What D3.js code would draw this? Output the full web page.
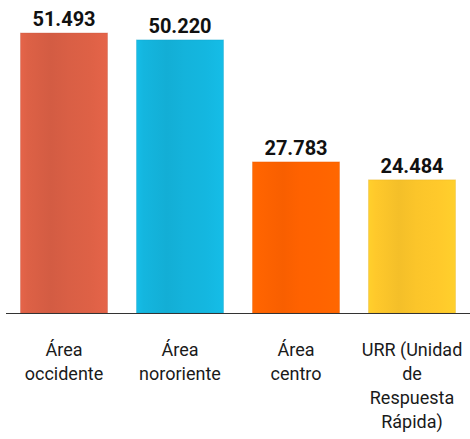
<!DOCTYPE html>
<html>
<head>
<meta charset="utf-8">
<script src="https://cdn.jsdelivr.net/npm/d3@7"></script>
<style>
  body { margin: 0; background: #fff; }
  svg { display: block; }
</style>
</head>
<body>
<script>
var w = 470;
var h = 439;

// data
var categories = ["occidente", "nororiente", "centro", "urr"];
var categoryLines = [
    ["Área", "occidente"],
    ["Área", "nororiente"],
    ["Área", "centro"],
    ["URR (Unidad", "de", "Respuesta", "Rápida)"]
];
var values = [51.493, 50.220, 27.783, 24.484];
var valueLabels = ["51.493", "50.220", "27.783", "24.484"];
var colors = ["#d95f45", "#14b3db", "#ff6200", "#fbc52a"];

var baseY = 313;
var topY = 33;

/*
    Band scale for the categories, linear scale for the bar heights.
*/
var xScale = d3.scaleBand()
    .domain(categories)
    .range([6, w])
    .paddingInner(0.25)
    .paddingOuter(0.125);

var yScale = d3.scaleLinear()
    .domain([0, d3.max(values)])
    .range([baseY, topY]);

var svg = d3.select("body")
    .append("svg")
    .attr("width", w)
    .attr("height", h);

// soft vertical streaks like the original bars
var defs = svg.append("defs");
colors.forEach(function(c, i){
    var base = d3.color(c);
    var g = defs.append("linearGradient")
        .attr("id", "grad" + i)
        .attr("x1", "0%").attr("x2", "100%")
        .attr("y1", "0%").attr("y2", "0%");
    var stops = [[0, 0.15], [0.08, 0.05], [0.35, -0.08], [0.55, 0], [0.8, 0.06], [1, 0.15]];
    stops.forEach(function(s){
        g.append("stop")
            .attr("offset", s[0])
            .attr("stop-color", s[1] >= 0 ? base.brighter(s[1]) : base.darker(-s[1]));
    });
});

svg.selectAll("rect.bar")
    .data(values)
    .enter()
    .append("rect")
    .attr("class", "bar")
    .attr("x", function(d, i){ return xScale(categories[i]); })
    .attr("y", function(d){ return yScale(d); })
    .attr("width", xScale.bandwidth())
    .attr("height", function(d){ return baseY - yScale(d); })
    .attr("fill", function(d, i){ return "url(#grad" + i + ")"; })
    .attr("stroke", function(d, i){ return d3.color(colors[i]).darker(0.3); })
    .attr("stroke-opacity", 0.35)
    .attr("stroke-width", 1);

// value labels above the bars
svg.selectAll("text.value")
    .data(values)
    .enter()
    .append("text")
    .attr("class", "value")
    .attr("x", function(d, i){ return xScale(categories[i]) + xScale.bandwidth() / 2; })
    .attr("y", function(d){ return yScale(d) - 7; })
    .attr("text-anchor", "middle")
    .style("font-family", "Roboto, 'Liberation Sans', sans-serif")
    .style("font-weight", "bold")
    .style("font-size", "20px")
    .style("fill", "#111")
    .text(function(d, i){ return valueLabels[i]; });

// x axis, just the baseline and the wrapped category names
var xAxis = d3.axisBottom(xScale)
    .tickSize(0)
    .tickPadding(0)
    .tickFormat("");

var axisG = svg.append("g")
    .attr("transform", "translate(0," + baseY + ")")
    .call(xAxis);

axisG.select(".domain")
    .attr("d", "M6,0.5H" + w)
    .attr("stroke", "#333");

axisG.selectAll(".tick").each(function(d, i){
    var t = d3.select(this).append("text")
        .attr("text-anchor", "middle")
        .attr("fill", "#1a1a1a")
        .style("font-family", "Roboto, 'Liberation Sans', sans-serif")
        .style("font-size", "18px");
    categoryLines[i].forEach(function(line, j){
        t.append("tspan")
            .attr("x", 0)
            .attr("y", 43 + j * 24)
            .text(line);
    });
});
</script>
</body>
</html>
